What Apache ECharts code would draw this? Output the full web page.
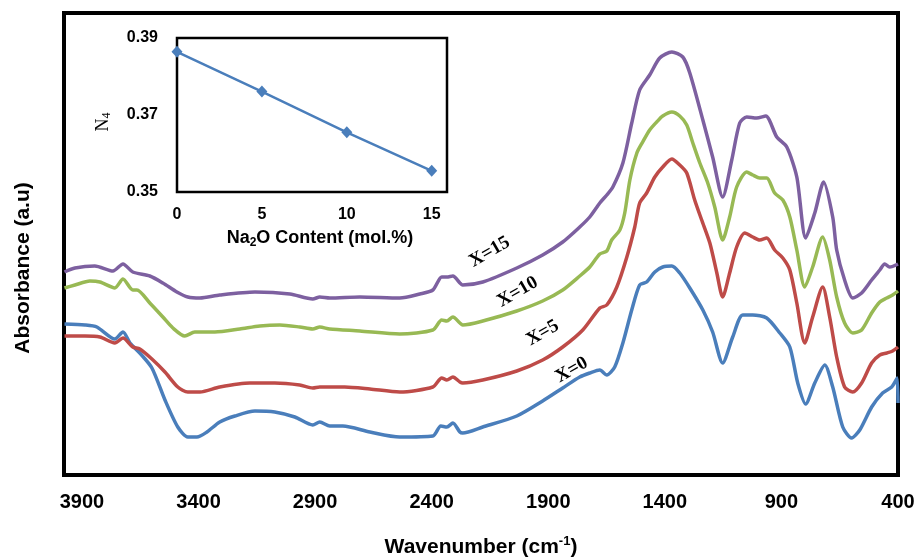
<!DOCTYPE html>
<html>
<head>
<meta charset="utf-8">
<title>FTIR spectra of Na2O glasses</title>
<script src="https://cdn.jsdelivr.net/npm/echarts@6/dist/echarts.min.js"></script>
<style>
  html, body { margin: 0; padding: 0; background: #fff; }
  #chart { width: 915px; height: 558px; }
</style>
</head>
<body>
<div id="chart"></div>
<script>
// Wavenumber tick labels (cm-1)
const tickLabels = [3900, 3400, 2900, 2400, 1900, 1400, 900, 400];

// X = 0 mol.% Na2O
const wnX0 = [3975,3887,3836,3759,3724,3694,3652,3600,3544,3489,3446,3407,3364,3309,3244,3158,3073,2987,2910,2880,2837,2781,2665,2537,2395,2361,2335,2309,2279,2267,2181,2035,1924,1838,1765,1722,1679,1649,1615,1580,1542,1508,1478,1443,1409,1370,1336,1293,1237,1195,1152,1109,1066,1023,963,907,864,830,796,757,714,680,637,599,564,513,466,427,408,403,400];
const absX0 = [1.51,1.50,1.48,1.36,1.43,1.32,1.22,1.07,0.75,0.48,0.38,0.38,0.43,0.53,0.59,0.64,0.63,0.58,0.50,0.53,0.49,0.49,0.43,0.38,0.39,0.49,0.48,0.52,0.43,0.42,0.48,0.59,0.74,0.87,0.98,1.02,1.05,1.00,1.08,1.32,1.65,1.90,1.93,2.03,2.08,2.09,2.02,1.87,1.65,1.43,1.12,1.38,1.60,1.60,1.57,1.42,1.28,0.92,0.71,0.92,1.10,0.88,0.48,0.37,0.45,0.68,0.82,0.88,0.95,0.97,0.72];

// X = 5 mol.% Na2O
const wnX5 = [3975,3887,3823,3759,3724,3682,3652,3600,3544,3489,3446,3394,3309,3180,3073,2966,2910,2880,2773,2665,2537,2395,2357,2335,2309,2279,2267,2181,2035,1924,1838,1752,1679,1649,1606,1563,1529,1508,1478,1443,1409,1370,1336,1306,1272,1242,1207,1177,1152,1122,1092,1057,1023,993,963,929,894,864,834,800,766,723,693,663,629,594,556,513,478,448,423,400];
const absX5 = [1.39,1.39,1.38,1.32,1.37,1.28,1.26,1.16,1.03,0.88,0.83,0.83,0.88,0.92,0.92,0.90,0.87,0.88,0.88,0.86,0.83,0.88,0.97,0.95,0.98,0.93,0.92,0.95,1.04,1.15,1.28,1.45,1.67,1.70,1.88,2.18,2.48,2.72,2.82,2.98,3.08,3.16,3.10,3.02,2.75,2.55,2.32,2.02,1.78,2.02,2.28,2.42,2.38,2.35,2.37,2.25,2.17,2.05,1.72,1.32,1.58,1.88,1.58,1.18,0.88,0.83,0.92,1.12,1.20,1.22,1.24,1.28];

// X = 10 mol.% Na2O
const wnX10 = [3975,3930,3866,3823,3759,3724,3682,3664,3609,3553,3510,3459,3416,3330,3223,3137,3051,2966,2910,2880,2837,2708,2537,2395,2357,2335,2309,2279,2267,2181,2035,1924,1838,1765,1722,1679,1649,1628,1593,1572,1550,1520,1495,1465,1435,1409,1370,1336,1306,1280,1250,1216,1186,1152,1122,1092,1049,1023,993,963,929,894,864,834,800,766,723,693,663,629,594,556,513,478,448,423,400];
const absX10 = [1.87,1.90,1.94,1.93,1.87,1.96,1.85,1.85,1.72,1.58,1.47,1.39,1.43,1.43,1.46,1.49,1.50,1.48,1.46,1.48,1.46,1.44,1.41,1.45,1.55,1.54,1.58,1.52,1.50,1.54,1.64,1.74,1.85,1.99,2.08,2.21,2.24,2.35,2.45,2.62,2.95,3.22,3.33,3.45,3.53,3.59,3.63,3.59,3.50,3.32,3.12,2.92,2.68,2.35,2.58,2.88,3.03,3.00,2.97,2.97,2.82,2.75,2.58,2.25,1.88,2.08,2.38,2.15,1.78,1.52,1.42,1.45,1.62,1.73,1.77,1.80,1.84];

// X = 15 mol.% Na2O
const wnX15 = [3975,3930,3845,3767,3724,3682,3609,3553,3493,3446,3394,3309,3158,3008,2910,2880,2837,2708,2537,2451,2395,2357,2335,2309,2279,2267,2181,2035,1924,1838,1765,1722,1679,1649,1623,1580,1542,1508,1465,1422,1370,1323,1293,1237,1195,1152,1113,1079,1049,1006,967,920,877,834,796,757,719,680,663,629,594,556,513,478,457,436,400];
const absX15 = [2.03,2.07,2.09,2.04,2.11,2.03,1.99,1.92,1.83,1.78,1.77,1.80,1.83,1.81,1.76,1.78,1.77,1.78,1.77,1.81,1.85,1.98,1.98,1.99,1.92,1.90,1.93,2.07,2.20,2.33,2.48,2.58,2.72,2.80,2.88,3.12,3.52,3.85,4.00,4.17,4.23,4.18,4.02,3.55,3.18,2.78,3.15,3.52,3.58,3.57,3.59,3.38,3.28,2.98,2.37,2.62,2.93,2.58,2.25,1.95,1.77,1.82,1.95,2.05,2.11,2.08,2.11];

// Inset: fraction of four-coordinated boron vs Na2O content
const na2oContent = [0, 5, 10, 15];
const n4Values = [0.3864, 0.3761, 0.3655, 0.3555];
const insetXTicks = [0, 5, 10, 15];
const insetYTicks = [0.35, 0.37, 0.39];

const SANS = 'Liberation Sans, Arial, sans-serif';
const SERIF = 'Liberation Serif, Times New Roman, serif';

function pairs(xs, ys) {
  return xs.map((x, i) => [x, ys[i]]);
}

function spectrum(name, xs, ys, color, labelCoord) {
  return {
    name: name,
    type: 'line',
    xAxisIndex: 0,
    yAxisIndex: 0,
    data: pairs(xs, ys),
    showSymbol: false,
    smooth: 0.25,
    lineStyle: { color: color, width: 3.5 },
    itemStyle: { color: color },
    markPoint: {
      silent: true,
      symbol: 'circle',
      symbolSize: 0,
      data: [{ coord: labelCoord }],
      label: {
        show: true,
        position: 'inside',
        formatter: name,
        rotate: 30,
        color: '#000',
        fontFamily: SERIF,
        fontWeight: 'bold',
        fontSize: 19
      }
    }
  };
}

const chart = echarts.init(document.getElementById('chart'), null, { renderer: 'canvas' });

chart.setOption({
  animation: false,
  backgroundColor: '#fff',
  grid: [
    { left: 64, top: 13, width: 834, height: 462, outerBoundsMode: 'none', containLabel: false,
      show: true, borderColor: '#000', borderWidth: 4, backgroundColor: 'transparent' },
    { left: 177, top: 38, width: 270, height: 154, outerBoundsMode: 'none', containLabel: false,
      show: true, borderColor: '#000', borderWidth: 2.5, backgroundColor: '#fff', z: 5 }
  ],
  xAxis: [
    {
      gridIndex: 0,
      type: 'value',
      inverse: true,
      min: 400,
      max: 3977,
      axisLine: { show: false },
      axisTick: { show: false },
      splitLine: { show: false },
      axisLabel: {
        customValues: tickLabels,
        formatter: v => String(v),
        color: '#000',
        fontFamily: SANS,
        fontWeight: 'bold',
        fontSize: 20,
        margin: 17
      },
      name: '{t|Wavenumber (cm}{s|-1}{t|)}',
      nameLocation: 'middle',
      nameGap: 60,
      nameTextStyle: {
        rich: {
          t: { fontFamily: SANS, fontWeight: 'bold', fontSize: 21, color: '#000' },
          s: { fontFamily: SANS, fontWeight: 'bold', fontSize: 13, color: '#000', padding: [0, 0, 12, 0] }
        }
      }
    },
    {
      gridIndex: 1,
      type: 'value',
      min: 0,
      max: 15.9,
      axisLine: { show: false },
      axisTick: { show: false },
      splitLine: { show: false },
      axisLabel: {
        customValues: insetXTicks,
        formatter: v => String(v),
        color: '#000',
        fontFamily: SANS,
        fontWeight: 'bold',
        fontSize: 16,
        margin: 15
      }
    }
  ],
  yAxis: [
    {
      gridIndex: 0,
      type: 'value',
      min: 0,
      max: 4.62,
      axisLine: { show: false },
      axisTick: { show: false },
      axisLabel: { show: false },
      splitLine: { show: false }
    },
    {
      gridIndex: 1,
      type: 'value',
      min: 0.35,
      max: 0.39,
      axisLine: { show: false },
      axisTick: { show: false },
      splitLine: { show: false },
      axisLabel: {
        customValues: insetYTicks,
        formatter: v => v.toFixed(2),
        color: '#000',
        fontFamily: SANS,
        fontWeight: 'bold',
        fontSize: 16,
        margin: 19
      }
    }
  ],
  graphic: [
    {
      type: 'text',
      x: 23,
      y: 268,
      rotation: Math.PI / 2,
      style: {
        text: 'Absorbance (a.u)',
        font: 'bold 21px ' + SANS,
        fill: '#000',
        align: 'center',
        verticalAlign: 'middle'
      }
    },
    {
      type: 'text',
      x: 320,
      y: 238,
      z: 10,
      style: {
        text: '{t|Na}{s|2}{t|O Content (mol.%)}',
        align: 'center',
        verticalAlign: 'middle',
        rich: {
          t: { fontFamily: SANS, fontWeight: 'bold', fontSize: 18, fill: '#000', color: '#000' },
          s: { fontFamily: SANS, fontWeight: 'bold', fontSize: 12, fill: '#000', color: '#000', padding: [9, 0, 0, 0] }
        }
      }
    },
    {
      type: 'text',
      x: 103,
      y: 122,
      z: 10,
      rotation: Math.PI / 2,
      style: {
        text: '{t|N}{s|4}',
        align: 'center',
        verticalAlign: 'middle',
        rich: {
          t: { fontFamily: SERIF, fontSize: 18, fill: '#000', color: '#000' },
          s: { fontFamily: SERIF, fontSize: 12, fill: '#000', color: '#000', padding: [8, 0, 0, 0] }
        }
      }
    }
  ],
  series: [
    spectrum('X=0', wnX0, absX0, '#4a7ebb', [1799, 1.05]),
    spectrum('X=5', wnX5, absX5, '#be4b48', [1924, 1.42]),
    spectrum('X=10', wnX10, absX10, '#98b954', [2031, 1.83]),
    spectrum('X=15', wnX15, absX15, '#7d60a0', [2151, 2.23]),
    {
      name: 'N4',
      type: 'line',
      xAxisIndex: 1,
      yAxisIndex: 1,
      z: 6,
      data: pairs(na2oContent, n4Values),
      symbol: 'diamond',
      symbolSize: [11, 12],
      lineStyle: { color: '#4a7ebb', width: 2.5 },
      itemStyle: { color: '#4a7ebb' }
    }
  ]
});
</script>
</body>
</html>
